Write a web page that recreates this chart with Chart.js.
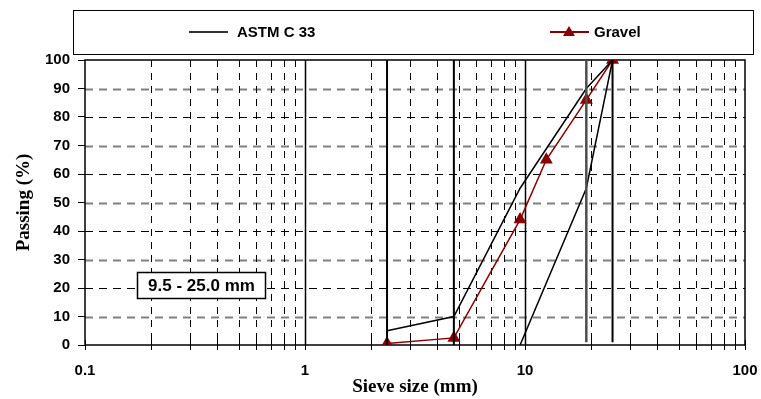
<!DOCTYPE html>
<html>
<head>
<meta charset="utf-8">
<script src="https://cdn.jsdelivr.net/npm/chart.js@4"></script>
<style>
  html, body { margin: 0; padding: 0; background: #fff; }
  canvas { display: block; }
</style>
</head>
<body>
<canvas id="grading" width="761" height="399"></canvas>
<script>
/* Grading curve: gravel vs ASTM C 33 envelope (9.5 - 25.0 mm) */

/* ---------- Data ---------- */
var gravelSizes = [2.36, 4.75, 9.5, 12.5, 19, 25];
var gravelPassing = [0.5, 2.5, 44, 65, 86, 100];

var astmUpperSizes = [2.36, 4.75, 9.5, 19, 25];
var astmUpperPassing = [5, 10, 55, 90, 100];
var astmLowerSizes = [9.5, 19, 25];
var astmLowerPassing = [0, 55, 100];

// sieve marker lines (vertical, drawn from bottom to 100 %)
var sieveLineSizes = [2.36, 4.75, 19, 25];
var sieveLineBottom = [0, 0, 1, 1];
var sieveLineTop = [100, 100, 100, 100];

var xDecades = [0.1, 1, 10, 100];
var xMultipliers = [1, 2, 3, 4, 5, 6, 7, 8, 9];
var yTickValues = [0, 10, 20, 30, 40, 50, 60, 70, 80, 90, 100];

var legendLabels = ['ASTM C 33', 'Gravel'];
var rangeLabel = '9.5 - 25.0 mm';

var RED = '#8b0000';
var SANS = "'Liberation Sans', Arial, sans-serif";
var SERIF = "'Liberation Serif', 'Times New Roman', serif";

/* ---------- Helpers ---------- */
function pts(xs, ys) {
  return xs.map(function (x, i) { return { x: x, y: ys[i] }; });
}

var xTickValues = [];
xDecades.forEach(function (d, i) {
  if (i === xDecades.length - 1) { xTickValues.push(d); return; }
  xMultipliers.forEach(function (m) { xTickValues.push(+(d * m).toPrecision(3)); });
});
function isDecade(v) { return xDecades.indexOf(v) !== -1; }

var datasets = [];
sieveLineSizes.forEach(function (s, i) {
  datasets.push({
    label: 'sieve ' + s,
    data: pts([s, s], [sieveLineBottom[i], sieveLineTop[i]]),
    borderColor: s === 19 ? '#4d4d4d' : '#000',
    borderWidth: s === 19 ? 2.5 : 2,
    pointRadius: 0
  });
});
datasets.push({
  label: legendLabels[0],
  data: pts(astmUpperSizes, astmUpperPassing),
  borderColor: '#000', borderWidth: 1.5, pointRadius: 0
});
datasets.push({
  label: legendLabels[0] + ' lower',
  data: pts(astmLowerSizes, astmLowerPassing),
  borderColor: '#000', borderWidth: 1.5, pointRadius: 0
});
datasets.push({
  label: legendLabels[1],
  data: pts(gravelSizes, gravelPassing),
  borderColor: RED, borderWidth: 1.5,
  pointStyle: 'triangle', pointRadius: 6,
  pointBackgroundColor: RED, pointBorderColor: RED
});

/* ---------- Plot grid, frame, x tick marks ---------- */
var gridPlugin = {
  id: 'sieveGrid',
  beforeDatasetsDraw: function (chart) {
    var ctx = chart.ctx, a = chart.chartArea;
    var xs = chart.scales.x, ys = chart.scales.y;
    ctx.save();
    // horizontal dashed lines
    yTickValues.forEach(function (v) {
      if (v === 0 || v === 100) return;
      var py = Math.round(ys.getPixelForValue(v)) + 0.5;
      var odd = (v / 10) % 2 === 1;
      ctx.beginPath();
      ctx.setLineDash([8, 6]);
      ctx.strokeStyle = odd ? '#808080' : '#000';
      ctx.lineWidth = odd ? 2 : 1;
      ctx.moveTo(a.left, py);
      ctx.lineTo(a.right, py);
      ctx.stroke();
    });
    // vertical lines
    xTickValues.forEach(function (v) {
      var px = Math.round(xs.getPixelForValue(v)) + 0.5;
      if (px <= a.left + 1 || px >= a.right - 1) return;
      ctx.beginPath();
      if (isDecade(v)) {
        ctx.setLineDash([]);
        ctx.lineWidth = 1.5;
      } else {
        ctx.setLineDash([7, 6]);
        ctx.lineWidth = 1;
      }
      ctx.strokeStyle = '#000';
      ctx.moveTo(px, a.top);
      ctx.lineTo(px, a.bottom);
      ctx.stroke();
    });
    // frame
    ctx.setLineDash([]);
    ctx.lineWidth = 1.5;
    ctx.strokeStyle = '#000';
    ctx.strokeRect(a.left, a.top, a.right - a.left, a.bottom - a.top);
    // x tick marks crossing the axis
    ctx.lineWidth = 1;
    xTickValues.forEach(function (v) {
      var px = Math.round(xs.getPixelForValue(v)) + 0.5;
      ctx.beginPath();
      ctx.moveTo(px, a.bottom - 5);
      ctx.lineTo(px, a.bottom + 5);
      ctx.stroke();
    });
    ctx.restore();
  },
  afterDraw: function (chart) {
    var ctx = chart.ctx;
    ctx.save();
    // legend box
    ctx.lineWidth = 1;
    ctx.strokeStyle = '#000';
    ctx.strokeRect(73.5, 10.5, 680, 44);
    ctx.font = 'bold 15px ' + SANS;
    ctx.textBaseline = 'middle';
    ctx.textAlign = 'left';
    ctx.fillStyle = '#000';
    ctx.beginPath();
    ctx.lineWidth = 2;
    ctx.strokeStyle = '#333';
    ctx.moveTo(189, 32); ctx.lineTo(228, 32);
    ctx.stroke();
    ctx.fillText(legendLabels[0], 237, 33);
    ctx.beginPath();
    ctx.strokeStyle = RED;
    ctx.moveTo(550, 32); ctx.lineTo(589, 32);
    ctx.stroke();
    ctx.beginPath();
    ctx.fillStyle = RED;
    ctx.moveTo(569, 26); ctx.lineTo(575, 36); ctx.lineTo(563, 36);
    ctx.closePath();
    ctx.fill();
    ctx.fillStyle = '#000';
    ctx.fillText(legendLabels[1], 594, 33);
    // size-range label
    ctx.fillStyle = '#fff';
    ctx.fillRect(137, 272, 128, 26);
    ctx.lineWidth = 1.5;
    ctx.strokeStyle = '#000';
    ctx.strokeRect(137.5, 272.5, 128, 26);
    ctx.fillStyle = '#000';
    ctx.textAlign = 'center';
    ctx.font = 'bold 17px ' + SANS;
    ctx.fillText(rangeLabel, 201.5, 286);
    ctx.restore();
  }
};

/* ---------- Chart ---------- */
new Chart(document.getElementById('grading'), {
  type: 'scatter',
  data: { datasets: datasets },
  options: {
    responsive: false,
    animation: false,
    showLine: true,
    layout: { padding: { top: 60, right: 16, left: 0, bottom: 0 } },
    elements: { line: { tension: 0 } },
    plugins: { legend: { display: false }, tooltip: { enabled: false } },
    scales: {
      x: {
        type: 'logarithmic',
        min: 0.1, max: 100,
        afterBuildTicks: function (scale) {
          scale.ticks = xTickValues.map(function (v) { return { value: v }; });
        },
        afterFit: function (scale) {
          scale.height = 54;
          scale.paddingLeft = 0;
          scale.paddingRight = 0;
        },
        grid: { display: false },
        border: { display: false },
        ticks: {
          autoSkip: false, maxRotation: 0, padding: 9,
          color: '#000', font: { family: SANS, size: 15, weight: 'bold' },
          callback: function (v) { return isDecade(v) ? String(v) : ''; }
        },
        title: {
          display: true, text: 'Sieve size (mm)', color: '#000',
          font: { family: SERIF, size: 19, weight: 'bold' },
          padding: { top: 0, bottom: 1 }
        }
      },
      y: {
        min: 0, max: 100,
        afterBuildTicks: function (scale) {
          scale.ticks = yTickValues.map(function (v) { return { value: v }; });
        },
        afterFit: function (scale) { scale.width = 85; },
        grid: { display: true, drawOnChartArea: false, drawTicks: true, tickLength: 7, color: '#000' },
        border: { display: false },
        ticks: {
          padding: 8, color: '#000',
          font: { family: SANS, size: 15, weight: 'bold' }
        },
        title: {
          display: true, text: 'Passing (%)', color: '#000',
          font: { family: SERIF, size: 19, weight: 'bold' },
          padding: { top: 13, bottom: 0 }
        }
      }
    }
  },
  plugins: [gridPlugin]
});
</script>
</body>
</html>
